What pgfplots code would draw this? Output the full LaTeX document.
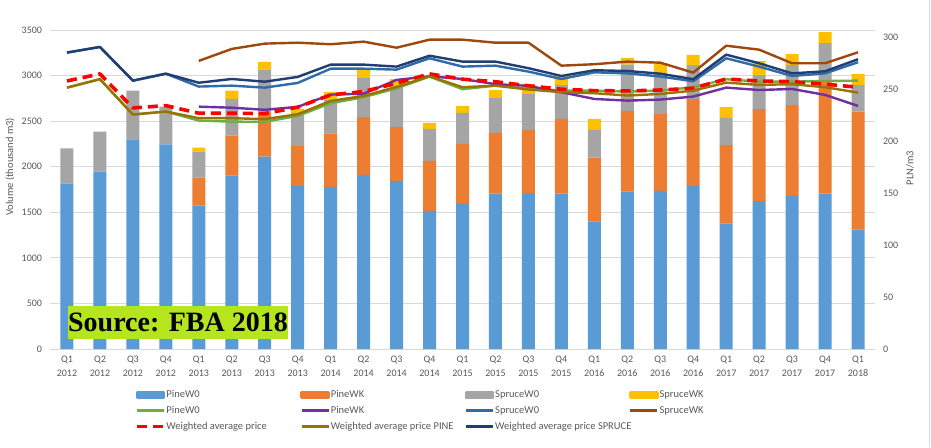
\documentclass[border=0pt]{standalone}
\usepackage{pgfplots}
\pgfplotsset{compat=1.18}
\usepackage{pgfplotstable}
\usepackage{fontspec}
\setmainfont{Carlito}
\newfontfamily\srcfont{Liberation Serif}
\definecolor{cPW}{HTML}{5B9BD5}
\definecolor{cPK}{HTML}{ED7D31}
\definecolor{cSW}{HTML}{A5A5A5}
\definecolor{cSK}{HTML}{FFC000}
\definecolor{lPW}{HTML}{70AD47}
\definecolor{lPK}{HTML}{7030A0}
\definecolor{lSW}{HTML}{2E6BA8}
\definecolor{lSK}{HTML}{9E480E}
\definecolor{lPINE}{HTML}{997300}
\definecolor{lSPR}{HTML}{203E74}
\definecolor{gridc}{HTML}{D9D9D9}
\definecolor{txt}{HTML}{595959}
\definecolor{src}{HTML}{B5E61D}

\pgfplotstableread{
x pw pk sw sk
0 1815 0 385 0
1 1945 0 440 0
2 2300 0 535 0
3 2245 0 415 0
4 1575 305 285 45
5 1905 435 405 90
6 2110 490 465 85
7 1790 440 360 45
8 1780 585 375 80
9 1910 635 435 80
10 1845 590 445 80
11 1515 550 350 65
12 1600 650 340 75
13 1705 665 385 85
14 1710 695 395 110
15 1705 820 370 100
16 1400 700 305 120
17 1730 880 510 75
18 1735 845 450 105
19 1790 952 373 112
20 1378 860 299 116
21 1623 1009 372 154
22 1681 994 439 121
23 1704 1246 405 121
24 1310 1294 293 120
}\bars

\pgfplotstableread{
x pw0 pwk sw0 swk avg pine spr
0 251.3 nan 285 nan 257.7 251.3 285
1 259.4 nan 290.4 nan 264.5 259.4 290.4
2 225.4 nan 258 nan 231.8 225.4 258
3 228.3 nan 264.7 nan 234 228.3 264.7
4 219.6 233 252.3 277 226.7 221.9 256
5 218.6 232 253.2 288.5 226.7 221.9 259.6
6 218.4 230 251.3 293.6 226.3 221 257
7 224.1 232.8 255.8 294.5 232.5 225.7 261.6
8 236.3 244.6 269.5 293 244.3 238.5 273.4
9 242.1 245.5 269.5 295.5 247.5 243.3 273.4
10 250.7 258.7 268.6 289.7 255.5 252 271.5
11 261.9 262.2 279.5 297.4 264.5 262.2 282
12 249.8 259.6 271.5 297.4 259.4 251.7 276.3
13 253.2 254.6 272.4 294.5 257 253.2 276.3
14 250 253 266.7 294.5 253 249.5 270
15 248.4 246.9 259.6 272.4 249.8 246.9 262.5
16 248.4 240.4 266 273.8 248.4 245.9 268
17 247.5 238.8 265 276.3 248.1 243.7 267.3
18 248.4 239.8 262 275.3 249 245.2 264.7
19 251.7 242.7 257.4 265.7 250.7 248.4 259.4
20 259.4 251.3 279.5 291.6 259.6 256.1 283
21 257 249 271.5 287.8 257.7 253.9 274.7
22 257 250 262.5 274.7 257 254.6 265
23 257.7 244.3 265 274.7 254.6 251.7 267
24 258 233.7 275.7 285.3 251.7 246.5 278.6
}\lines

\begin{document}
\begin{tikzpicture}
\useasboundingbox (-50.5pt,-98pt) rectangle (880.5pt,349pt);
\fill[white] (-50.5pt,-98pt) rectangle (880.5pt,349pt);
\draw[gridc, line width=0.8pt] (878.5pt,-98pt) -- (878.5pt,349pt);
\begin{axis}[
  at={(0,0)}, anchor=south west,
  scale only axis, width=824pt, height=319pt,
  clip=false,
  xmin=-0.5, xmax=24.5, ymin=0, ymax=3500,
  ybar stacked, bar width=13pt,
  axis line style={draw=none},
  ytick={0,500,...,3500},
  ymajorgrids, major grid style={draw=gridc, line width=0.8pt},
  xtick={0,...,24},
  xticklabels={{Q1\\2012},{Q2\\2012},{Q3\\2012},{Q4\\2012},{Q1\\2013},{Q2\\2013},{Q3\\2013},{Q4\\2013},{Q1\\2014},{Q2\\2014},{Q3\\2014},{Q4\\2014},{Q1\\2015},{Q2\\2015},{Q3\\2015},{Q4\\2015},{Q1\\2016},{Q2\\2016},{Q3\\2016},{Q4\\2016},{Q1\\2017},{Q2\\2017},{Q3\\2017},{Q4\\2017},{Q1\\2018}},
  major tick length=0pt,
  tick label style={font=\fontsize{10}{14}\selectfont, text=txt},
  xticklabel style={align=center, yshift=-3pt},
  yticklabel style={xshift=-5pt},
  /pgf/number format/1000 sep={},
  /pgf/number format/assume math mode=true,
]
\addplot[fill=cPW, draw=none] table[x=x,y=pw]{\bars};
\addplot[fill=cPK, draw=none] table[x=x,y=pk]{\bars};
\addplot[fill=cSW, draw=none] table[x=x,y=sw]{\bars};
\addplot[fill=cSK, draw=none] table[x=x,y=sk]{\bars};
\node[rotate=90, font=\fontsize{10.5}{12}\selectfont, text=txt] at (axis description cs:-0.049,0.571) {Volume (thousand m3)};
\end{axis}
\begin{axis}[
  at={(0,0)}, anchor=south west,
  scale only axis, width=824pt, height=319pt,
  clip=false,
  xmin=-0.5, xmax=24.5, ymin=0, ymax=306.7,
  axis y line*=right, axis x line=none,
  axis line style={draw=none},
  ytick={0,50,...,300}, major tick length=0pt,
  tick label style={font=\fontsize{10}{14}\selectfont, text=txt},
  yticklabel style={xshift=5pt},
  /pgf/number format/assume math mode=true,
  legend columns=4,
  legend cell align=left,
  legend style={at={(axis description cs:0.1038,-0.127)}, anchor=north west,
    draw=none, fill=none, inner sep=0pt, outer sep=0pt,
    font=\fontsize{10.5}{12}\selectfont, text=txt,
    row sep=5pt, column sep=0pt, nodes={inner sep=1pt}},
  legend image code/.code={\draw[line width=2.4pt, #1] (0pt,0pt) -- (27pt,0pt);},
  every axis plot/.append style={line width=2.4pt, line join=round},
]
\addlegendimage{legend image code/.code={\fill[cPW] (0pt,-2.5pt) rectangle (27pt,2.5pt);}}
\addlegendentry{\makebox[133pt][l]{PineW0}}
\addlegendimage{legend image code/.code={\fill[cPK] (0pt,-2.5pt) rectangle (27pt,2.5pt);}}
\addlegendentry{\makebox[133pt][l]{PineWK}}
\addlegendimage{legend image code/.code={\fill[cSW] (0pt,-2.5pt) rectangle (27pt,2.5pt);}}
\addlegendentry{\makebox[133pt][l]{SpruceW0}}
\addlegendimage{legend image code/.code={\fill[cSK] (0pt,-2.5pt) rectangle (27pt,2.5pt);}}
\addlegendentry{\makebox[133pt][l]{SpruceWK}}
\addplot[lPW] table[x=x,y=pw0]{\lines};
\addlegendentry{\makebox[133pt][l]{PineW0}}
\addplot[lPK] table[x=x,y=pwk]{\lines};
\addlegendentry{\makebox[133pt][l]{PineWK}}
\addplot[lSW] table[x=x,y=sw0]{\lines};
\addlegendentry{\makebox[133pt][l]{SpruceW0}}
\addplot[lSK] table[x=x,y=swk]{\lines};
\addlegendentry{\makebox[133pt][l]{SpruceWK}}
\addplot[red, line width=3.6pt, dash pattern=on 10pt off 6pt] table[x=x,y=avg]{\lines};
\addlegendentry{\makebox[133pt][l]{Weighted average price}}
\addplot[lPINE] table[x=x,y=pine]{\lines};
\addlegendentry{\makebox[133pt][l]{Weighted average price PINE}}
\addplot[lSPR] table[x=x,y=spr]{\lines};
\addlegendentry{\makebox[133pt][l]{Weighted average price SPRUCE}}
\node[rotate=90, font=\fontsize{10.5}{12}\selectfont, text=txt] at (axis description cs:1.043,0.567) {PLN/m3};
\node[fill=src, minimum width=220pt, minimum height=33pt, inner sep=0pt, font=\srcfont\bfseries\fontsize{28}{30}\selectfont, text=black] at (axis description cs:0.1547,0.083) {Source: FBA 2018};
\end{axis}
\end{tikzpicture}
\end{document}
